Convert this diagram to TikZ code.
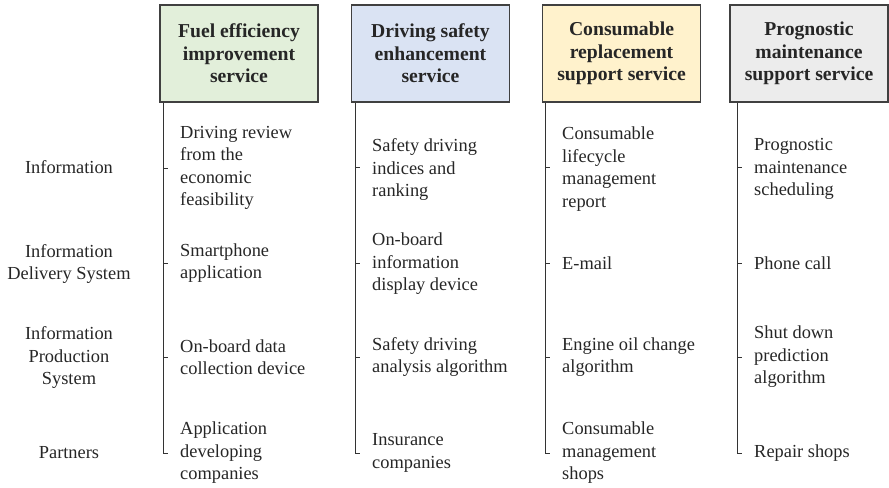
\documentclass[tikz,border=0pt]{standalone}
\usepackage{fontspec}
\setmainfont{Liberation Serif}
\definecolor{fuelgreen}{RGB}{226, 239, 218}
\definecolor{safeblue}{RGB}{218, 227, 243}
\definecolor{consyellow}{RGB}{255, 242, 204}
\definecolor{progngray}{RGB}{236, 236, 236}
\definecolor{inkgray}{RGB}{38, 38, 38}
\usepackage{tikz}
\usetikzlibrary{positioning, calc}

\begin{document}
\begin{tikzpicture}[
    svcbox/.style={draw=black!75, line width=1.2pt, minimum width=4.74cm, minimum height=2.91cm, align=center, text=inkgray, font=\fontsize{16.8}{19.2}\selectfont\bfseries},
    item/.style={anchor=west, inner sep=0pt, align=left, text=inkgray, font=\fontsize{15.7}{19.2}\selectfont},
    rowlabel/.style={inner sep=0pt, align=center, text=inkgray, font=\fontsize{15.7}{19.2}\selectfont},
    trunk/.style={draw=black!80, line width=0.85pt}
  ]
  \useasboundingbox (0, 0) rectangle (26.67, -14.64);

  % Service headers
  \node[svcbox, fill=fuelgreen] (fuel) at (7.17, -1.605) {Fuel efficiency\\improvement\\service};
  \node[svcbox, fill=safeblue] (safety) at (12.915, -1.605) {Driving safety\\enhancement\\service};
  \node[svcbox, fill=consyellow] (consum) at (18.645, -1.605) {Consumable\\replacement\\support service};
  \node[svcbox, fill=progngray] (progn) at (24.27, -1.605) {Prognostic\\maintenance\\support service};

  % Row labels
  \node[rowlabel] (info) at (2.07, -5.01) {Information};
  \node[rowlabel] (deliv) at (2.07, -7.92) {Information\\Delivery System};
  \node[rowlabel] (prod) at (2.07, -10.74) {Information\\Production\\System};
  \node[rowlabel] (partner) at (2.07, -13.59) {Partners};

  % Fuel efficiency column
  \node[item] (fuel1) at (5.40, -5.04) {Driving review\\from the\\economic\\feasibility};
  \node[item] (fuel2) at (5.40, -7.89) {Smartphone\\application};
  \node[item] (fuel3) at (5.40, -10.71) {On-board data\\collection device};
  \node[item] (fuel4) at (5.40, -13.59) {Application\\developing\\companies};

  % Driving safety column
  \node[item] (safety1) at (11.16, -5.10) {Safety driving\\indices and\\ranking};
  \node[item] (safety2) at (11.16, -7.92) {On-board\\information\\display device};
  \node[item] (safety3) at (11.16, -10.71) {Safety driving\\analysis algorithm};
  \node[item] (safety4) at (11.16, -13.59) {Insurance\\companies};

  % Consumable column
  \node[item] (consum1) at (16.86, -5.07) {Consumable\\lifecycle\\management\\report};
  \node[item] (consum2) at (16.86, -7.89) {E-mail};
  \node[item] (consum3) at (16.86, -10.71) {Engine oil change\\algorithm};
  \node[item] (consum4) at (16.86, -13.59) {Consumable\\management\\shops};

  % Prognostic column
  \node[item] (progn1) at (22.62, -5.07) {Prognostic\\maintenance\\scheduling};
  \node[item] (progn2) at (22.62, -7.89) {Phone call};
  \node[item] (progn3) at (22.62, -10.71) {Shut down\\prediction\\algorithm};
  \node[item] (progn4) at (22.62, -13.59) {Repair shops};

  % Trunks and ticks
  \coordinate (fuelend) at (4.89, -13.59);
  \coordinate (safetyend) at (10.65, -13.59);
  \coordinate (consumend) at (16.35, -13.59);
  \coordinate (prognend) at (22.11, -13.59);

  \draw[trunk] (fuel.south -| fuelend) -- (fuelend) -- ++(0.15, 0);
  \draw[trunk] (fuel1.west -| fuelend) -- ++(0.15, 0);
  \draw[trunk] (fuel2.west -| fuelend) -- ++(0.15, 0);
  \draw[trunk] (fuel3.west -| fuelend) -- ++(0.15, 0);

  \draw[trunk] (safety.south -| safetyend) -- (safetyend) -- ++(0.15, 0);
  \draw[trunk] (safety1.west -| safetyend) ++(0, 0.09) -- ++(0.15, 0);
  \draw[trunk] (safety2.west -| safetyend) ++(0, 0.03) -- ++(0.15, 0);
  \draw[trunk] (safety3.west -| safetyend) -- ++(0.15, 0);

  \draw[trunk] (consum.south -| consumend) -- (consumend) -- ++(0.15, 0);
  \draw[trunk] (consum1.west -| consumend) ++(0, 0.06) -- ++(0.15, 0);
  \draw[trunk] (consum2.west -| consumend) -- ++(0.15, 0);
  \draw[trunk] (consum3.west -| consumend) -- ++(0.15, 0);

  \draw[trunk] (progn.south -| prognend) -- (prognend) -- ++(0.15, 0);
  \draw[trunk] (progn1.west -| prognend) ++(0, 0.06) -- ++(0.15, 0);
  \draw[trunk] (progn2.west -| prognend) -- ++(0.15, 0);
  \draw[trunk] (progn3.west -| prognend) -- ++(0.15, 0);
\end{tikzpicture}
\end{document}
